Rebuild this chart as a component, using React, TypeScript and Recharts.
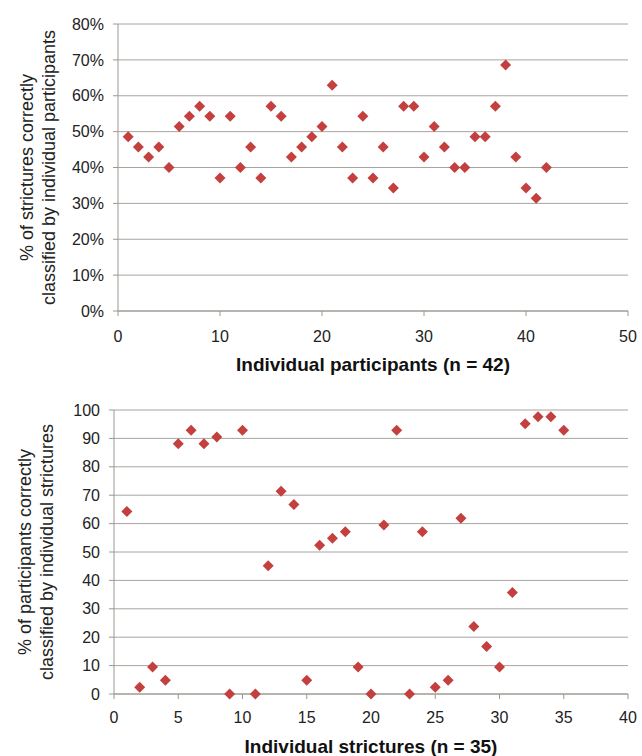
import React from 'react';
import { ScatterChart, Scatter, XAxis, YAxis, CartesianGrid } from 'recharts';

// % of the 35 strictures each participant classified correctly (participants 1..42)
const participantScores = [
  48.6, 45.7, 42.9, 45.7, 40.0, 51.4, 54.3, 57.1, 54.3, 37.1,
  54.3, 40.0, 45.7, 37.1, 57.1, 54.3, 42.9, 45.7, 48.6, 51.4,
  62.9, 45.7, 37.1, 54.3, 37.1, 45.7, 34.3, 57.1, 57.1, 42.9,
  51.4, 45.7, 40.0, 40.0, 48.6, 48.6, 57.1, 68.6, 42.9, 34.3,
  31.4, 40.0,
];

// % of the 42 participants who classified each stricture correctly (strictures 1..35)
const strictureScores = [
  64.3, 2.4, 9.5, 4.8, 88.1, 92.9, 88.1, 90.5, 0, 92.9,
  0, 45.2, 71.4, 66.7, 4.8, 52.4, 54.8, 57.1, 9.5, 0,
  59.5, 92.9, 0, 57.1, 2.4, 4.8, 61.9, 23.8, 16.7, 9.5,
  35.7, 95.2, 97.6, 97.6, 92.9,
];

const topXTicks = [0, 10, 20, 30, 40, 50];
const topYTicks = [0, 10, 20, 30, 40, 50, 60, 70, 80];
const bottomXTicks = [0, 5, 10, 15, 20, 25, 30, 35, 40];
const bottomYTicks = [0, 10, 20, 30, 40, 50, 60, 70, 80, 90, 100];

const topData = participantScores.map((v, i) => ({ x: i + 1, y: v }));
const bottomData = strictureScores.map((v, i) => ({ x: i + 1, y: v }));

const FONT = '"Liberation Sans", Arial, sans-serif';
const MARKER = '#C4403F';
const AXIS = '#9c9690';
const GRID = '#a8a4a0';

const Diamond = (props: any) => {
  const { cx, cy } = props;
  const r = 5.5;
  return (
    <polygon
      points={`${cx},${cy - r} ${cx + r},${cy} ${cx},${cy + r} ${cx - r},${cy}`}
      fill={MARKER}
    />
  );
};

const yTitle = (lines: string[], xs: number[]) => (props: any) => {
  const { viewBox } = props;
  const cy = viewBox.y + viewBox.height / 2;
  return (
    <g>
      {lines.map((t, i) => (
        <text
          key={i}
          x={xs[i]}
          y={cy}
          transform={`rotate(-90, ${xs[i]}, ${cy})`}
          textAnchor="middle"
          dominantBaseline="central"
          fontSize={18}
          fill="#222"
          fontFamily={FONT}
        >
          {t}
        </text>
      ))}
    </g>
  );
};

const xTitle = (text: string, dy: number) => (props: any) => {
  const { viewBox } = props;
  return (
    <text
      x={viewBox.x + viewBox.width / 2}
      y={viewBox.y + dy}
      textAnchor="middle"
      dominantBaseline="central"
      fontSize={19}
      fontWeight="bold"
      fill="#111"
      fontFamily={FONT}
    >
      {text}
    </text>
  );
};

const tickStyle = { fontSize: 16, fill: '#222', fontFamily: FONT };

export default function App() {
  return (
    <div style={{ position: 'absolute', left: 0, top: 0, width: 642, height: 756, background: '#fff', fontFamily: FONT }}>
      <ScatterChart width={642} height={380} margin={{ top: 24, right: 14, bottom: 0, left: 0 }}>
        <CartesianGrid vertical={false} stroke={GRID} />
        <XAxis
          type="number"
          dataKey="x"
          domain={[0, 50]}
          ticks={topXTicks}
          height={69}
          tick={tickStyle}
          tickSize={5}
          tickMargin={15}
          stroke={AXIS}
          label={{ content: xTitle('Individual participants (n = 42)', 53) }}
        />
        <YAxis
          type="number"
          dataKey="y"
          domain={[0, 80]}
          ticks={topYTicks}
          width={118}
          tick={tickStyle}
          tickSize={5}
          tickMargin={9}
          tickFormatter={(v: number) => `${v}%`}
          stroke={AXIS}
          label={{ content: yTitle(['% of strictures correctly', 'classified by individual participants'], [27, 49]) }}
        />
        <Scatter data={topData} shape={Diamond} isAnimationActive={false} />
      </ScatterChart>
      <ScatterChart width={642} height={376} margin={{ top: 30, right: 14, bottom: 0, left: 0 }}>
        <CartesianGrid vertical={false} stroke={GRID} />
        <XAxis
          type="number"
          dataKey="x"
          domain={[0, 40]}
          ticks={bottomXTicks}
          height={62}
          tick={tickStyle}
          tickSize={5}
          tickMargin={13}
          stroke={AXIS}
          label={{ content: xTitle('Individual strictures (n = 35)', 52) }}
        />
        <YAxis
          type="number"
          dataKey="y"
          domain={[0, 100]}
          ticks={bottomYTicks}
          width={114}
          tick={tickStyle}
          tickSize={5}
          tickMargin={9}
          stroke={AXIS}
          label={{ content: yTitle(['% of participants correctly', 'classified by individual strictures'], [25, 47]) }}
        />
        <Scatter data={bottomData} shape={Diamond} isAnimationActive={false} />
      </ScatterChart>
    </div>
  );
}
